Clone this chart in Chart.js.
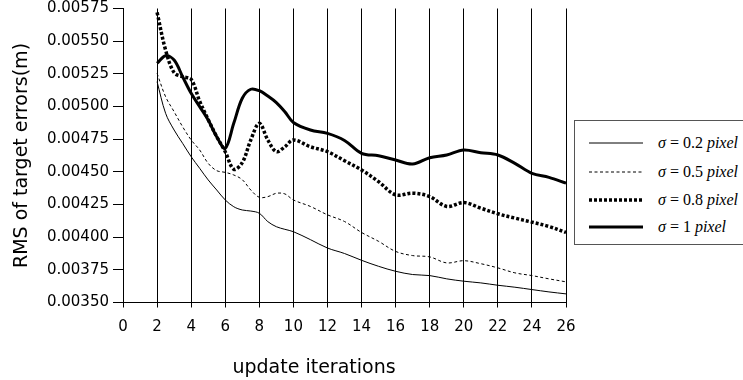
<!DOCTYPE html>
<html>
<head>
<meta charset="utf-8">
<script src="https://cdn.jsdelivr.net/npm/chart.js@4/dist/chart.umd.min.js"></script>
<style>
html,body{margin:0;padding:0;background:#fff;}
#wrap{position:relative;width:743px;height:380px;overflow:hidden;background:#fff;}
#c{position:absolute;left:0;top:0;}
#legend{position:absolute;left:574px;top:120px;width:200px;height:123px;border:1px solid #555;background:#fff;
  font-family:"Liberation Serif","Times New Roman",serif;font-size:16px;color:#000;}
.row{position:absolute;left:0;width:200px;height:24px;}
.row svg{position:absolute;left:13px;top:0;}
.row span{position:absolute;left:83px;top:2px;white-space:nowrap;line-height:20px;}
#xtitle{position:absolute;left:214px;width:200px;text-align:center;top:355px;
  font-family:"DejaVu Sans",sans-serif;font-size:19px;color:#000;white-space:nowrap;}
</style>
</head>
<body>
<div id="wrap">
<canvas id="c" width="743" height="380"></canvas>
<div id="legend"></div>
<div id="xtitle">update iterations</div>
</div>
<script>
// ---- data ----
const iterations = [2,2.5,3,3.5,4,4.5,5,5.5,6,6.5,7,7.5,8,8.5,9,9.5,10,11,12,13,14,15,16,17,18,19,20,21,22,23,24,25,26];
const sigma02 = [0.00519,0.004948,0.00482,0.004718,0.004616,0.004527,0.004438,0.004361,0.004285,0.004233,0.004208,0.0042,0.004183,0.004119,0.00408,0.00406,0.004042,
  0.003981,0.003917,0.003875,0.003823,0.003777,0.003739,0.003714,0.003706,0.003681,0.003663,0.00365,0.003632,0.003617,0.003599,0.003581,0.003566];
const sigma05 = [0.005254,0.005075,0.00496,0.004845,0.004744,0.004667,0.004565,0.004509,0.004496,0.004476,0.00444,0.004361,0.004305,0.00431,0.004336,0.004331,0.004285,
  0.004235,0.004171,0.00412,0.004036,0.003968,0.003891,0.003859,0.003849,0.003803,0.00382,0.003797,0.003765,0.003727,0.003706,0.003681,0.003658];
const sigma08 = [0.00572,0.005432,0.005259,0.005228,0.005208,0.00504,0.0049,0.004769,0.004654,0.00452,0.00457,0.004744,0.004871,0.004744,0.004654,0.004692,0.004744,
  0.004692,0.004654,0.004585,0.004514,0.004425,0.004324,0.004337,0.004311,0.004235,0.004265,0.004222,0.004179,0.004146,0.004115,0.004082,0.004036];
const sigma10 = [0.005331,0.005389,0.005356,0.005228,0.005101,0.004999,0.004897,0.004769,0.00468,0.004871,0.005063,0.005132,0.005121,0.00508,0.00503,0.00496,0.004878,
  0.00482,0.004794,0.00474,0.004642,0.004623,0.00459,0.00456,0.004608,0.004629,0.004667,0.004646,0.004629,0.004565,0.004489,0.004458,0.004413];
const seriesLabels = ["0.2", "0.5", "0.8", "1"];
const xTicks = [0,2,4,6,8,10,12,14,16,18,20,22,24,26];
const yTicks = [0.0035,0.00375,0.004,0.00425,0.0045,0.00475,0.005,0.00525,0.0055,0.00575];

// ---- styles ----
const styles = [
  {width:1, dash:[]},
  {width:1, dash:[3,2.5]},
  {width:3.5, dash:[3,2]},
  {width:3, dash:[]}
];
const seriesValues = [sigma02, sigma05, sigma08, sigma10];

const datasets = seriesValues.map((vals, i) => ({
  label: "σ=" + seriesLabels[i] + " pixel",
  data: iterations.map((x, j) => ({x: x, y: vals[j]})),
  borderColor: "#000",
  borderWidth: styles[i].width,
  borderDash: styles[i].dash,
  borderCapStyle: "butt",
  pointRadius: 0,
  tension: 0.35,
  fill: false
}));

const LEFT_PAD = 7, CHART_LEFT = 123, CHART_BOTTOM = 302.5;

new Chart(document.getElementById("c"), {
  type: "line",
  data: {datasets},
  options: {
    responsive: false,
    animation: false,
    devicePixelRatio: 1,
    layout: {padding: {left: LEFT_PAD, right: 177, top: 8.5, bottom: 0}},
    plugins: {legend: {display: false}, tooltip: {enabled: false}},
    scales: {
      x: {
        type: "linear", min: 0, max: 26,
        afterBuildTicks: s => { s.ticks = xTicks.map(v => ({value: v})); },
        afterFit: s => { s.height = 380 - CHART_BOTTOM; },
        grid: {display: true, drawOnChartArea: true, drawTicks: true, tickLength: 5, color: "#000", lineWidth: 1},
        border: {display: true, color: "#000", width: 1},
        ticks: {color: "#000", padding: 11, maxRotation: 0, autoSkip: false,
          font: {family: "DejaVu Sans", size: 15}}
      },
      y: {
        type: "linear", min: 0.0035, max: 0.00575,
        afterBuildTicks: s => { s.ticks = yTicks.map(v => ({value: v})); },
        afterFit: s => { s.width = CHART_LEFT - LEFT_PAD; s.paddingTop = 0; s.paddingBottom = 0; },
        grid: {display: true, drawOnChartArea: false, drawTicks: true, tickLength: 10, color: "#000", lineWidth: 1},
        border: {display: true, color: "#000", width: 1},
        ticks: {color: "#000", padding: 4, autoSkip: false,
          font: {family: "DejaVu Sans", size: 15},
          callback: v => Number(v).toFixed(5)},
        title: {display: true, text: "RMS of target errors(m)", color: "#000",
          font: {family: "DejaVu Sans", size: 19}, padding: {top: 4, bottom: 0}}
      }
    }
  }
});

// ---- legend (HTML) ----
const legend = document.getElementById("legend");
const rowTops = [10, 39, 67, 94];
seriesLabels.forEach((lab, i) => {
  const row = document.createElement("div");
  row.className = "row";
  row.style.top = rowTops[i] + "px";
  const st = styles[i];
  row.innerHTML =
    '<svg width="56" height="24"><line x1="1" y1="12" x2="55" y2="12" stroke="#000" stroke-width="' + st.width +
    '" stroke-dasharray="' + (st.dash.length ? st.dash.join(",") : "none") + '"/></svg>' +
    '<span><i>σ</i> = ' + lab + ' <i>pixel</i></span>';
  legend.appendChild(row);
});
</script>
</body>
</html>
